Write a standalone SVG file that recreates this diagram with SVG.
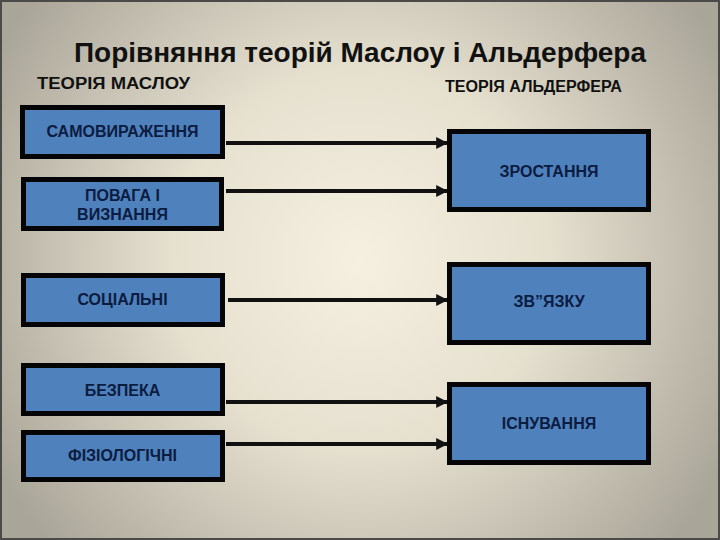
<svg xmlns="http://www.w3.org/2000/svg" width="720" height="540" viewBox="0 0 720 540">
<defs>
<radialGradient id="bg" cx="360" cy="260" r="420" gradientUnits="userSpaceOnUse">
<stop offset="0" stop-color="#f5f0e0"/>
<stop offset="0.45" stop-color="#e6e0cf"/>
<stop offset="1" stop-color="#a9a598"/>
</radialGradient>
<marker id="arr" viewBox="0 0 10 10" refX="9" refY="5" markerWidth="3" markerHeight="3" orient="auto" markerUnits="strokeWidth">
<path d="M0,0 L10,5 L0,10 z" fill="#111"/>
</marker>
<style>
.box{fill:#4f81bd;stroke:#050505;stroke-width:5}
.lbl{font-family:"Liberation Sans",Arial,sans-serif;font-weight:bold;font-size:16px;fill:#0c1c40;text-anchor:middle}
.hdr{font-family:"Liberation Sans",Arial,sans-serif;font-weight:bold;font-size:16px;fill:#111}
.con{stroke:#111;stroke-width:4;fill:none;marker-end:url(#arr)}
</style>
</defs>
<rect x="0" y="0" width="720" height="540" fill="url(#bg)"/>
<rect x="1" y="1" width="718" height="538" fill="none" stroke="#4a4a48" stroke-width="2"/>
<text x="360" y="62" font-family="&quot;Liberation Sans&quot;,Arial,sans-serif" font-weight="bold" font-size="27" fill="#111" text-anchor="middle" textLength="572" lengthAdjust="spacingAndGlyphs">Порівняння теорій Маслоу і Альдерфера</text>
<text class="hdr" x="37" y="89" textLength="153" lengthAdjust="spacingAndGlyphs">ТЕОРІЯ МАСЛОУ</text>
<text class="hdr" x="445" y="92" textLength="177" lengthAdjust="spacingAndGlyphs">ТЕОРІЯ АЛЬДЕРФЕРА</text>
<g id="connectors">
<line class="con" x1="226" y1="143" x2="447" y2="143"/>
<line class="con" x1="226" y1="191" x2="447" y2="191"/>
<line class="con" x1="228" y1="300" x2="447" y2="300"/>
<line class="con" x1="226" y1="402" x2="447" y2="402"/>
<line class="con" x1="226" y1="444" x2="447" y2="444"/>
</g>
<g id="samovyrazhennia">
<rect class="box" x="22.5" y="107.5" width="200" height="49"/>
<text class="lbl" x="122.5" y="137">САМОВИРАЖЕННЯ</text>
</g>
<g id="povaha">
<rect class="box" x="23.5" y="179.5" width="198" height="49"/>
<text class="lbl" x="122.5" y="201">ПОВАГА І</text>
<text class="lbl" x="122.5" y="220">ВИЗНАННЯ</text>
</g>
<g id="sotsialni">
<rect class="box" x="23.5" y="275.5" width="199" height="49"/>
<text class="lbl" x="122.5" y="305">СОЦІАЛЬНІ</text>
</g>
<g id="bezpeka">
<rect class="box" x="23.5" y="365.5" width="199" height="48"/>
<text class="lbl" x="122.5" y="396">БЕЗПЕКА</text>
</g>
<g id="fiziolohichni">
<rect class="box" x="23.5" y="432.5" width="199" height="47"/>
<text class="lbl" x="122.5" y="461">ФІЗІОЛОГІЧНІ</text>
</g>
<g id="zrostannia">
<rect class="box" x="449.5" y="131.5" width="199" height="78"/>
<text class="lbl" x="549" y="177">ЗРОСТАННЯ</text>
</g>
<g id="zviazku">
<rect class="box" x="449.5" y="264.5" width="199" height="78"/>
<text class="lbl" x="549" y="307">ЗВ”ЯЗКУ</text>
</g>
<g id="isnuvannia">
<rect class="box" x="449.5" y="384.5" width="199" height="78"/>
<text class="lbl" x="549" y="429">ІСНУВАННЯ</text>
</g>
</svg>
